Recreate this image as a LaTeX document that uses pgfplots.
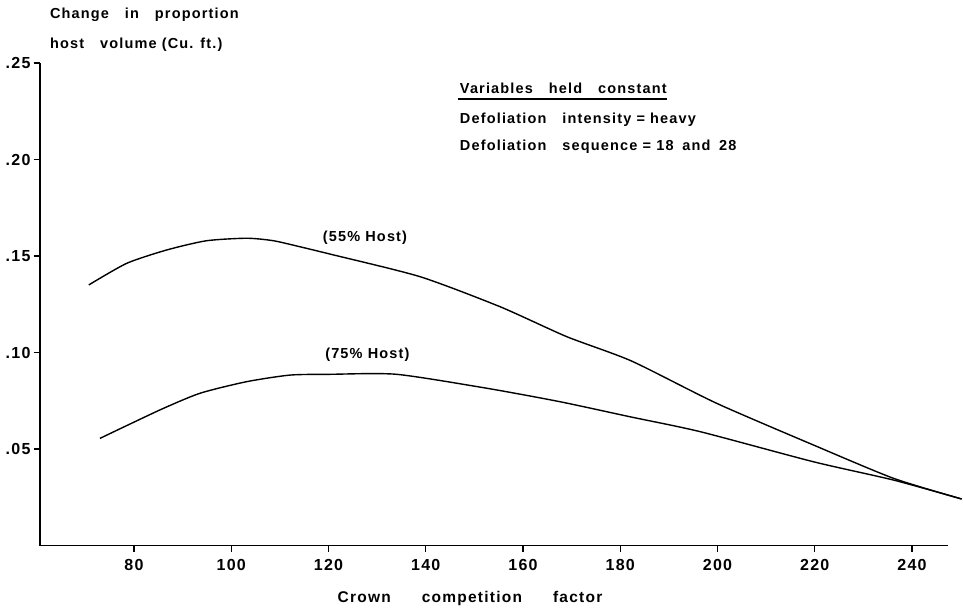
\documentclass[border=0pt]{standalone}
\usepackage{fontspec}
\setmainfont{Liberation Sans}[LetterSpace=8]
\usepackage{pgfplots}
\pgfplotsset{compat=1.18}
\newcommand\gap{\hspace{1.1em}}
\newcommand\txt{\fontsize{14.5}{17}\selectfont\bfseries}
\begin{document}
\begin{tikzpicture}
\begin{axis}[
  scale only axis, width=908pt, height=482.5pt,
  xmin=60.67, xmax=247.4, ymin=0, ymax=0.25,
  axis x line=bottom, axis y line=left,
  axis line style={-, line width=1.6pt, black},
  xtick={80,100,120,140,160,180,200,220,240},
  xticklabels={80,100,120,140,160,180,200,220,240},
  ytick={0.05,0.10,0.15,0.20,0.25},
  yticklabels={.05,.10,.15,.20,.25},
  tick align=outside, major tick length=6pt,
  tick style={black, line width=1.2pt},
  ticklabel style={font=\fontsize{16}{18}\selectfont\bfseries},
  xticklabel style={yshift=-4pt},
  clip=false,
]
% 55% Host
\addplot[black, line width=1.4pt, smooth, tension=0.4] coordinates {
(70.7,0.1350) (78.5,0.1462) (86.7,0.1531) (94.9,0.1579) (103.2,0.1592)
(108.7,0.1579) (114.1,0.1548) (120.3,0.1510) (138.8,0.1393) (155.3,0.1237)
(169.0,0.1082) (182.3,0.0956) (199.8,0.0737) (219.7,0.0521) (236.2,0.0348)
(250.2,0.0241)};
% 75% Host
\addplot[black, line width=1.4pt, smooth, tension=0.4] coordinates {
(73.0,0.0555) (85.3,0.0702) (93.6,0.0789) (103.2,0.0849) (112.1,0.0883)
(120.3,0.0887) (134.0,0.0887) (152.5,0.0815) (167.6,0.0745) (182.0,0.0667)
(196.4,0.0590) (219.7,0.0434) (236.2,0.0339) (250.2,0.0241)};
% texts
\node[anchor=west, inner sep=0pt] at (axis cs:62.7,0.2749) {\txt Change\gap in\gap proportion};
\node[anchor=west, inner sep=0pt] at (axis cs:62.7,0.2593) {\txt host\gap volume (Cu. ft.)};
\node[anchor=west, inner sep=0pt] at (axis cs:147.0,0.2370) {\txt Variables\gap held\gap constant};
\draw[line width=1.3pt] (axis cs:146.6,0.2313) -- (axis cs:189.6,0.2313);
\node[anchor=west, inner sep=0pt] at (axis cs:147.0,0.2205) {\txt Defoliation\gap intensity = heavy};
\node[anchor=west, inner sep=0pt] at (axis cs:147.0,0.2065) {\txt Defoliation\gap sequence = 18\hspace{0.6em}and\hspace{0.6em}28};
\node[anchor=west, inner sep=0pt] at (axis cs:118.8,0.1593) {\txt (55\% Host)};
\node[anchor=west, inner sep=0pt] at (axis cs:119.3,0.0987) {\txt (75\% Host)};
\node[inner sep=0pt] at (axis cs:149.1,-0.0272) {\fontsize{15.5}{18}\selectfont\bfseries Crown\hspace{2em}competition\hspace{2em}factor};
\end{axis}
\pgfresetboundingbox
\path[use as bounding box] (-40pt,-64.5pt) rectangle (923pt,545.5pt);
\end{tikzpicture}
\end{document}
